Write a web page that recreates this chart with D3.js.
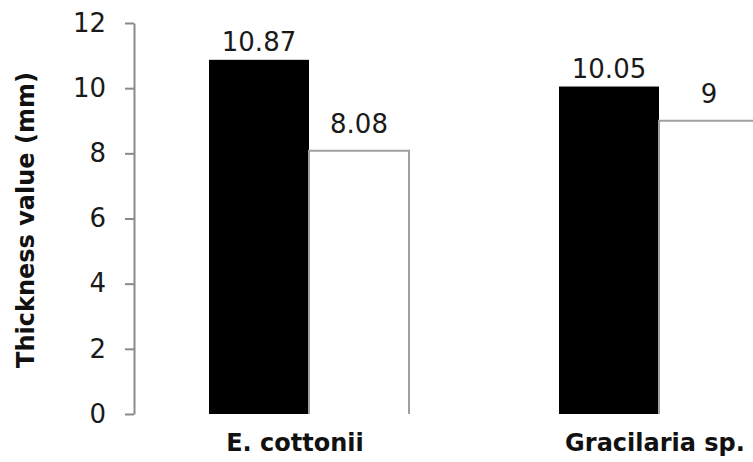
<!DOCTYPE html>
<html>
<head>
<meta charset="utf-8">
<script src="https://cdn.jsdelivr.net/npm/d3@7"></script>
<style>
  html, body { margin: 0; padding: 0; background: #fff; }
  svg { display: block; font-family: "DejaVu Sans", sans-serif; }
</style>
</head>
<body>
<svg id="chart" width="753" height="462"></svg>
<script>
const categories = ["E. cottonii", "Gracilaria sp."];
const seriesNames = ["Series 1", "Series 2"];
const series1 = [10.87, 10.05];
const series2 = [8.08, 9];
const valueLabels1 = ["10.87", "10.05"];
const valueLabels2 = ["8.08", "9"];
const yTicks = [0, 2, 4, 6, 8, 10, 12];
const yTitle = "Thickness value (mm)";

const svg = d3.select("#chart");

const y = d3.scaleLinear().domain([0, 12]).range([414, 23]);
const x = d3.scaleBand().domain(categories).range([134, 834])
  .paddingInner(150 / 350).paddingOuter(75 / 350);
const xs = d3.scaleBand().domain(seriesNames).range([0, x.bandwidth()]);

const seriesData = [
  { name: seriesNames[0], values: series1, labels: valueLabels1, fill: "#000", stroke: "none", gap: 9 },
  { name: seriesNames[1], values: series2, labels: valueLabels2, fill: "#fff", stroke: "#a0a0a0", gap: 18 }
];

// bars (outlined bars are drawn open at the bottom, as in the reference)
seriesData.forEach(s => {
  const g = svg.append("g");
  if (s.stroke === "none") {
    g.selectAll("rect")
      .data(categories)
      .join("rect")
      .attr("x", c => x(c) + xs(s.name))
      .attr("y", (c, i) => y(s.values[i]))
      .attr("width", xs.bandwidth())
      .attr("height", (c, i) => y(0) - y(s.values[i]))
      .attr("fill", s.fill);
  } else {
    g.selectAll("path")
      .data(categories)
      .join("path")
      .attr("d", (c, i) => {
        const x0 = x(c) + xs(s.name), x1 = x0 + xs.bandwidth();
        const yt = y(s.values[i]), yb = y(0);
        return `M${x0},${yb}V${yt}H${x1}V${yb}`;
      })
      .attr("fill", s.fill)
      .attr("stroke", s.stroke)
      .attr("stroke-width", 2);
  }
});

// value labels
seriesData.forEach(s => {
  svg.append("g").selectAll("text")
    .data(categories)
    .join("text")
    .attr("x", c => x(c) + xs(s.name) + xs.bandwidth() / 2)
    .attr("y", (c, i) => y(s.values[i]) - s.gap)
    .attr("text-anchor", "middle")
    .attr("font-size", 26)
    .attr("fill", "#1a1a1a")
    .text((c, i) => s.labels[i]);
});

// y axis
const yAxis = d3.axisLeft(y).tickValues(yTicks).tickSize(9).tickSizeOuter(0).tickPadding(19);
const ga = svg.append("g").attr("transform", "translate(134,0)").call(yAxis);
ga.select(".domain").attr("stroke", "#8a8a8a").attr("stroke-width", 2);
ga.selectAll(".tick line").attr("stroke", "#8a8a8a").attr("stroke-width", 2);
ga.selectAll(".tick text").attr("font-size", 26).attr("fill", "#1a1a1a")
  .attr("font-family", "DejaVu Sans, sans-serif");

// y title
svg.append("text")
  .attr("transform", `translate(34,${(65 + 375) / 2}) rotate(-90)`)
  .attr("text-anchor", "middle")
  .attr("font-size", 24)
  .attr("font-weight", "bold")
  .attr("fill", "#111")
  .text(yTitle);

// category labels
const labelNudge = [-14, -4];
svg.append("g").selectAll("text")
  .data(categories)
  .join("text")
  .attr("x", (c, i) => x(c) + x.bandwidth() / 2 + labelNudge[i])
  .attr("y", 451)
  .attr("text-anchor", "middle")
  .attr("font-size", 24)
  .attr("font-weight", "bold")
  .attr("fill", "#111")
  .text(c => c);
</script>
</body>
</html>
